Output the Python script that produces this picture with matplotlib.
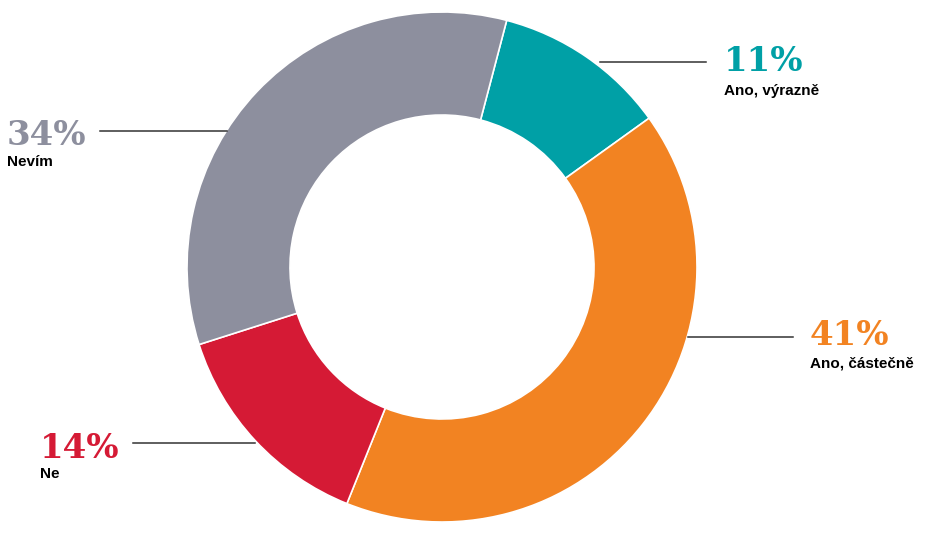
import matplotlib
matplotlib.use("Agg")
import matplotlib.pyplot as plt

categories = ["Ano, výrazně", "Ano, částečně", "Ne", "Nevím"]
values = [11, 41, 14, 34]
colors = ["#00a0a6", "#f28322", "#d51a35", "#8d8f9e"]

W, H = 925, 552
fig = plt.figure(figsize=(W / 100, H / 100), dpi=100)
ax = fig.add_axes([0, 0, 1, 1])

cx, cy = 442, H - 267
R = 255
ax.pie(values, colors=colors, startangle=75.3, counterclock=False,
       center=(cx, cy), radius=R, frame=True,
       wedgeprops=dict(width=103, edgecolor="white", linewidth=1.2))
ax.set_xlim(0, W)
ax.set_ylim(0, H)
ax.axis("off")

label_font = "Liberation Sans"
pct_font = "DejaVu Serif"

# label layout: (text x, pct baseline y, label baseline y, line x0, line x1, line y)
layout = [
    (724, 71, 95, 600, 706, 62),
    (810, 345, 368, 688, 793, 337),
    (40, 458, 478, 133, 255, 443),
    (7, 145, 166, 100, 227, 131),
]

for (name, v, c, (tx, py, ly, x0, x1, yl)) in zip(categories, values, colors, layout):
    ax.plot([x0, x1], [H - yl, H - yl], color="#333333", lw=1.1)
    ax.text(tx, H - py, f"{v}%", family=pct_font, weight="bold", fontsize=24.5,
            color=c, ha="left", va="baseline")
    ax.text(tx, H - ly, name, family=label_font, weight="bold", fontsize=11,
            color="black", ha="left", va="baseline")

fig.savefig("out.png", dpi=100)
